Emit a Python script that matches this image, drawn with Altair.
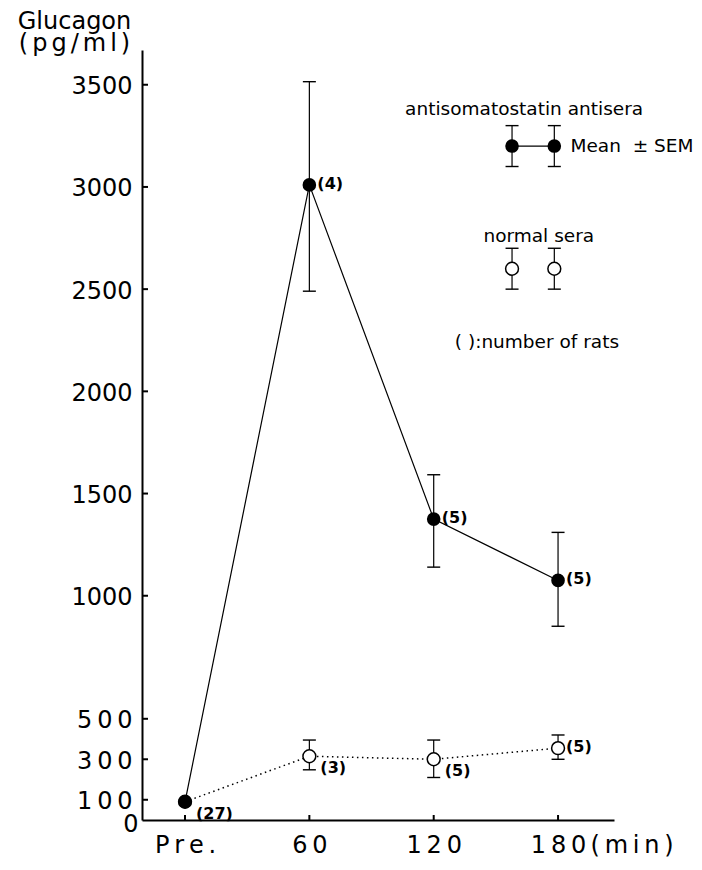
import altair as alt
import pandas as pd

# ---------------- data ----------------
time_labels = ["Pre.", "60", "120", "180"]
time_pos = [0, 1, 2, 3]

anti_mean = [90, 3010, 1375, 1075]
anti_low = [None, 2490, 1140, 876]
anti_high = [None, 3515, 1592, 1310]
anti_n = ["(27)", "(4)", "(5)", "(5)"]

norm_mean = [90, 315, 300, 355]
norm_low = [None, 248, 210, 300]
norm_high = [None, 395, 395, 420]
norm_n = [None, "(3)", "(5)", "(5)"]

y_ticks = [0, 100, 300, 500, 1000, 1500, 2000, 2500, 3000, 3500]
y_breaks = [0, 500, 1000, 3670]          # axis is drawn piecewise (stretched 500-1000)

legend_x = [2.63, 2.97]
legend_anti_y = 3200
legend_norm_y = 2600
legend_sem = 100
legend_texts = ["antisomatostatin antisera", "Mean\u00a0\u00a0\u00b1\u00a0SEM", "normal sera",
                "(\u00a0):number of rats"]
legend_text_x = [1.77, 3.10, 2.40, 2.17]
legend_text_y = [3380, 3200, 2762, 2243]

# ---------------- layout ----------------
W, H = 472, 770
THIN = "\u2009"
NARROW = "\u2006"

def spaced(s, sp=THIN):
    return sp.join(list(s))

x_scale = alt.Scale(domain=[-0.346, 3.45], nice=False, zero=False)
y_scale = alt.Scale(domain=y_breaks, range=[H, H * 674 / 776, H * 550 / 776, 0],
                    nice=False, zero=False)

x_label_expr = "[" + ",".join("'" + spaced(s) + "'" for s in time_labels) + "][datum.value]"
y_label_expr = ("datum.value == 100 ? '" + spaced("100") + "' : datum.value == 300 ? '"
                + spaced("300") + "' : datum.value == 500 ? '" + spaced("500")
                + "' : format(datum.value, 'd')")

x_axis = alt.Axis(values=time_pos, labelExpr=x_label_expr, grid=False, ticks=False, tickSize=0,
                  domainColor="black", domainWidth=2, labelFont="DejaVu Sans", labelFontSize=24,
                  labelColor="black", labelPadding=32, labelBaseline="alphabetic",
                  labelOverlap=False, labelFlush=False,
                  title=spaced("(min)"), titleFont="DejaVu Sans", titleFontSize=24,
                  titleFontWeight="normal", titleColor="black", titleX=448, titleY=32,
                  titleAlign="left", titleBaseline="alphabetic")

y_axis = alt.Axis(values=y_ticks, labelExpr=y_label_expr, grid=False, ticks=False, tickSize=0,
                  domainColor="black", domainWidth=2, labelFont="DejaVu Sans", labelFontSize=24,
                  labelColor="black", labelOverlap=False, labelFlush=False,
                  labelPadding={"condition": {"test": "datum.value == 0", "value": 4}, "value": 10},
                  labelOffset={"condition": {"test": "datum.value == 0", "value": 4}, "value": 2},
                  title=["Glucagon", spaced("(pg/ml)", NARROW)], titleAngle=0,
                  titleAlign="center", titleBaseline="alphabetic", titleX=-68, titleY=-22,
                  titleFont="DejaVu Sans", titleFontSize=24, titleFontWeight="normal",
                  titleColor="black", titleLineHeight=22)


def X(field):
    return alt.X(field, type="quantitative", scale=x_scale, axis=x_axis)


def Y(field):
    return alt.Y(field, type="quantitative", scale=y_scale, axis=y_axis)


df_anti = pd.DataFrame({"t": time_pos, "v": anti_mean, "lo": anti_low, "hi": anti_high})
df_norm = pd.DataFrame({"t": time_pos, "v": norm_mean, "lo": norm_low, "hi": norm_high})
df_anti_err = df_anti.dropna()
df_norm_err = df_norm.dropna()

rows = []
for i in time_pos:
    rows.append(dict(t=i, v=anti_mean[i], lab=anti_n[i], grp="below" if i == 0 else "right"))
for i in time_pos[1:]:
    rows.append(dict(t=i, v=norm_mean[i], lab=norm_n[i], grp="right" if i == 3 else "below"))
df_lab = pd.DataFrame(rows)

df_leg_anti = pd.DataFrame({"t": legend_x, "v": [legend_anti_y] * 2,
                            "lo": [legend_anti_y - legend_sem] * 2,
                            "hi": [legend_anti_y + legend_sem] * 2})
df_leg_norm = pd.DataFrame({"t": legend_x, "v": [legend_norm_y] * 2,
                            "lo": [legend_norm_y - legend_sem] * 2,
                            "hi": [legend_norm_y + legend_sem] * 2})
df_leg_text = pd.DataFrame({"t": legend_text_x, "v": legend_text_y, "lab": legend_texts})

# ---------------- layers ----------------
line_anti = alt.Chart(df_anti).mark_line(color="black", strokeWidth=1.2).encode(
    x=X("t"), y=Y("v"))
line_norm = alt.Chart(df_norm).mark_line(color="black", strokeWidth=1.5,
                                         strokeDash=[1.5, 3.5]).encode(x=X("t"), y=Y("v"))


def errbars(df):
    bar = alt.Chart(df).mark_rule(color="black", strokeWidth=1.2).encode(
        x=X("t"), y=Y("lo"), y2="hi")
    caps = alt.Chart(df).transform_fold(["lo", "hi"], as_=["k", "e"]).mark_rule(
        color="black", strokeWidth=1.4, xOffset=-6.5, x2Offset=6.5).encode(
        x=X("t"), x2="t", y=Y("e"))
    return bar + caps


def open_pts(df):
    return alt.Chart(df).mark_circle(size=165, fill="white", stroke="black",
                                     strokeWidth=1.5, opacity=1).encode(x=X("t"), y=Y("v"))


def filled_pts(df):
    return alt.Chart(df).mark_circle(size=185, color="black", opacity=1).encode(
        x=X("t"), y=Y("v"))


lab_right = alt.Chart(df_lab).transform_filter("datum.grp == 'right'").mark_text(
    align="left", baseline="middle", dx=8, dy=-1, font="DejaVu Sans", fontSize=16,
    fontWeight="bold", color="black").encode(x=X("t"), y=Y("v"), text="lab:N")
lab_below = alt.Chart(df_lab).transform_filter("datum.grp == 'below'").mark_text(
    align="left", baseline="middle", dx=11, dy=12, font="DejaVu Sans", fontSize=16,
    fontWeight="bold", color="black").encode(x=X("t"), y=Y("v"), text="lab:N")

# inward axis ticks
y_tick_marks = alt.Chart(pd.DataFrame({"v": y_ticks[1:]})).mark_rule(
    color="black", strokeWidth=2).encode(y=Y("v"), x=alt.value(0), x2=alt.value(6))
x_tick_marks = alt.Chart(pd.DataFrame({"t": time_pos})).mark_rule(
    color="black", strokeWidth=2).encode(x=X("t"), y=alt.value(H), y2=alt.value(H - 5))

# legend key
leg_line = alt.Chart(df_leg_anti).mark_line(color="black", strokeWidth=1.2).encode(
    x=X("t"), y=Y("v"))
leg_text = alt.Chart(df_leg_text).mark_text(
    align="left", baseline="middle", font="DejaVu Sans", fontSize=18.5,
    color="black").encode(x=X("t"), y=Y("v"), text="lab:N")

chart = alt.layer(
    line_anti, line_norm,
    errbars(df_anti_err), errbars(df_norm_err),
    open_pts(df_norm), filled_pts(df_anti),
    lab_right, lab_below,
    y_tick_marks, x_tick_marks,
    leg_line, errbars(df_leg_anti), errbars(df_leg_norm),
    filled_pts(df_leg_anti), open_pts(df_leg_norm), leg_text,
).properties(
    width=W, height=H,
    padding={"left": 134, "top": 42, "right": 80, "bottom": 40},
    autosize=alt.AutoSizeParams(type="none"),
).configure_view(stroke=None)

chart.save("out.html", embed_options={"renderer": "svg", "actions": False})
